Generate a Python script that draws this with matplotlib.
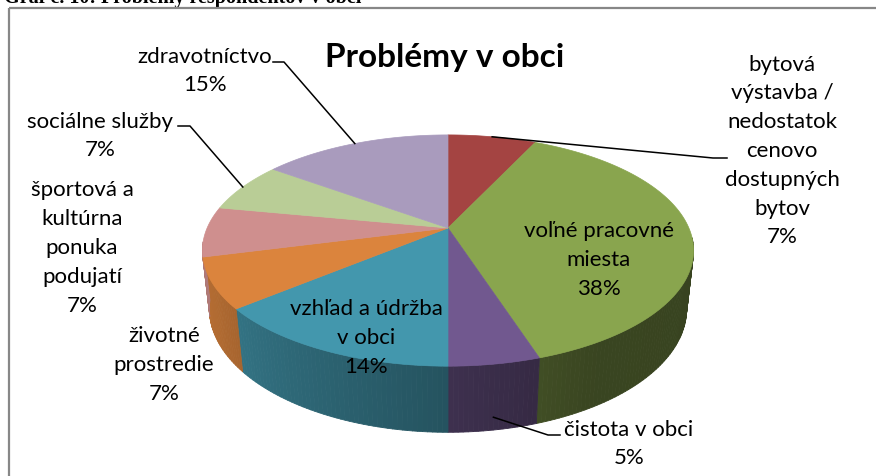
import numpy as np
import matplotlib.pyplot as plt
from matplotlib.collections import PolyCollection
from matplotlib.patches import Polygon, Rectangle

plt.rcParams['font.family'] = ['Lato', 'Noto Sans', 'DejaVu Sans']

# data, clockwise from 12 o'clock
labels = ["bytová\nvýstavba /\nnedostatok\ncenovo\ndostupných\nbytov",
          "voľné pracovné\nmiesta",
          "čistota v obci",
          "vzhľad a údržba\nv obci",
          "životné\nprostredie",
          "športová a\nkultúrna\nponuka\npodujatí",
          "sociálne služby",
          "zdravotníctvo"]
shares = [7, 38, 5, 14, 7, 7, 7, 15]
colors = ['#A44442', '#89A54E', '#71588F', '#4397AD',
          '#DB843D', '#CF8F8E', '#B9CD96', '#A99BBD']

# layout (pixels)
label_xy = [(782, 151), (599, 260), (629, 444), (366, 338),
            (164, 365), (82, 248), (100, 136), (205, 71)]
# leader: knee point, end point ; None = label inside slice
leaders = [((713, 158), (727, 158)), None, ((548, 435), (560, 435)), None,
           None, None, ((190, 126), (178, 126)), ((284, 62), (273, 62))]

# simple perspective camera for the 3d pie
F, D, TILT, H = 1096, 4.55, np.radians(27.5), 0.276
CX, CY = 448, 228


def project(phi, r, z):
    x = r * np.sin(phi)
    v = -r * np.cos(phi)
    c, s = np.cos(TILT), np.sin(TILT)
    depth = D - v * c - z * s
    return CX + F * x / depth, CY + F * (v * s - z * c) / depth


def shade(phi):
    d = np.degrees(phi)
    return np.interp(d, [60, 90, 150, 180, 240, 270, 300],
                     [0.40, 0.40, 0.42, 0.55, 0.80, 0.87, 0.87])


fig = plt.figure(figsize=(8.76, 4.76), dpi=100)
ax = fig.add_axes([0, 0, 1, 1])
ax.set_xlim(0, 876)
ax.set_ylim(476, 0)
ax.axis('off')

bounds = np.concatenate([[0], np.cumsum(shares)]) / np.sum(shares) * 2 * np.pi

# side walls (front half only)
walls, wall_cols = [], []
for i in range(len(shares)):
    a0, a1 = max(bounds[i], np.radians(95)), min(bounds[i + 1], np.radians(263))
    if a1 <= a0:
        continue
    ts = np.linspace(a0, a1, max(3, int(np.degrees(a1 - a0)) + 1))
    base = np.array(plt.matplotlib.colors.to_rgb(colors[i]))
    for t0, t1 in zip(ts[:-1], ts[1:]):
        p = [project(t0, 1, 0), project(t1, 1, 0), project(t1, 1, -H), project(t0, 1, -H)]
        walls.append(p)
        wall_cols.append(np.clip(base * shade((t0 + t1) / 2), 0, 1))
ax.add_collection(PolyCollection(walls, facecolors=wall_cols, edgecolors=wall_cols,
                                 linewidths=0.6, zorder=2))

# top faces
for i in range(len(shares)):
    ts = np.linspace(bounds[i], bounds[i + 1], 120)
    xs, ys = project(ts, 1, 0)
    pts = np.column_stack([np.r_[CX, xs], np.r_[CY, ys]])
    ax.add_patch(Polygon(pts, closed=True, facecolor=colors[i], edgecolor=colors[i],
                         lw=0.5, zorder=3))

# labels and leader lines
for i in range(len(shares)):
    txt = f"{labels[i]}\n{shares[i]}%"
    ax.text(*label_xy[i], txt, ha='center', va='center', multialignment='center',
            fontsize=16, linespacing=1.55, color='black', zorder=5)
    if leaders[i] is not None:
        mid = (bounds[i] + bounds[i + 1]) / 2
        z = -0.8 * H if np.cos(mid) < -0.9 else 0
        sx, sy = project(mid, 1, z)
        (kx, ky), (ex, ey) = leaders[i]
        ax.plot([sx, kx, ex], [sy, ky, ey], color='black', lw=1.1, zorder=4)

ax.text(445, 57, "Problémy v obci", ha='center', va='center', fontsize=24,
        fontweight='bold', zorder=5)

# caption cut off by the top edge
ax.text(4, 3, "Graf č. 10: Problémy respondentov v obci", ha='left', va='baseline',
        fontsize=14.5, fontweight='bold', family='Liberation Serif')

ax.add_patch(Rectangle((9, 8), 900, 500, fill=False, edgecolor='#878787', lw=1.6, zorder=6))

fig.savefig('out.png', dpi=100)
